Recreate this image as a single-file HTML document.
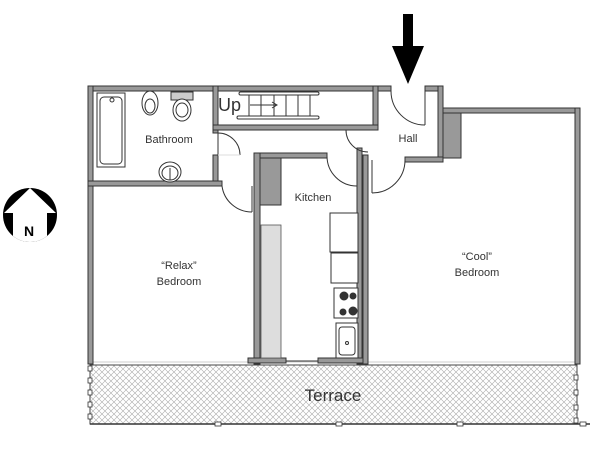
<!DOCTYPE html>
<html><head><meta charset="utf-8"><style>
html,body{margin:0;padding:0;background:#fff;width:600px;height:450px;overflow:hidden}
svg{display:block}
text{font-family:"Liberation Sans",sans-serif;fill:#333}
</style></head><body>
<svg width="600" height="450" viewBox="0 0 600 450" xmlns="http://www.w3.org/2000/svg">
<defs>
<pattern id="hatch" width="6" height="6" patternUnits="userSpaceOnUse">
<path d="M0 0L6 6M6 0L0 6" stroke="#aaa" stroke-width="0.6"/>
</pattern>
<clipPath id="nc"><circle cx="30" cy="215" r="27"/></clipPath>
</defs>
<rect x="90" y="365" width="487" height="59" fill="url(#hatch)" stroke="#444" stroke-width="1"/>
<line x1="90" y1="424" x2="590" y2="424" stroke="#333" stroke-width="1.5"/>
<g fill="#fff" stroke="#333" stroke-width="0.8">
<rect x="88" y="366" width="4" height="5"/><rect x="88" y="378" width="4" height="5"/><rect x="88" y="390" width="4" height="5"/><rect x="88" y="402" width="4" height="5"/><rect x="88" y="414" width="4" height="5"/>
<rect x="574" y="375" width="4" height="5"/><rect x="574" y="390" width="4" height="5"/><rect x="574" y="405" width="4" height="5"/><rect x="574" y="418" width="4" height="5"/>
<rect x="215" y="422" width="6" height="4"/><rect x="336" y="422" width="6" height="4"/><rect x="457" y="422" width="6" height="4"/><rect x="580" y="422" width="6" height="4"/>
</g>
<line x1="93" y1="362" x2="575" y2="362" stroke="#ccc" stroke-width="1"/>
<g fill="#999" stroke="#333" stroke-width="1">
<rect x="88" y="86" width="303" height="5"/>
<rect x="425" y="86" width="18" height="5"/>
<rect x="438" y="86" width="5" height="76"/>
<rect x="405" y="157" width="38" height="5"/>
<rect x="443" y="108" width="137" height="5"/>
<rect x="575" y="108" width="5" height="256"/>
<rect x="88" y="86" width="5" height="278"/>
<rect x="213" y="86" width="5" height="47"/>
<rect x="213" y="155" width="5" height="30"/>
<rect x="373" y="86" width="5" height="44"/>
<rect x="213" y="125" width="165" height="5"/>
<rect x="88" y="181" width="134" height="5"/>
<rect x="254" y="153" width="73" height="5"/>
<rect x="254" y="153" width="6" height="211"/>
<rect x="357" y="148" width="5" height="216"/>
<rect x="363" y="155" width="5" height="209"/>
<rect x="248" y="358" width="38" height="5"/>
<rect x="318" y="358" width="45" height="5"/>
</g>
<rect x="443" y="113" width="18" height="45" fill="#999" stroke="#333"/>
<rect x="260" y="158" width="21" height="47" fill="#999" stroke="#333"/>
<rect x="261" y="225" width="20" height="133" fill="#ddd" stroke="#555" stroke-width="0.8"/>
<line x1="286" y1="361" x2="318" y2="361" stroke="#333"/>
<g stroke="#333" fill="none" stroke-width="1">
<rect x="239" y="92" width="80" height="3" rx="1.5"/>
<rect x="237" y="116" width="82" height="3" rx="1.5"/>
<line x1="249" y1="95" x2="249" y2="116"/><line x1="261" y1="95" x2="261" y2="116"/><line x1="274" y1="95" x2="274" y2="116"/><line x1="286" y1="95" x2="286" y2="116"/><line x1="298" y1="95" x2="298" y2="116"/><line x1="310" y1="95" x2="310" y2="116"/>
<line x1="250" y1="105" x2="276" y2="105"/>
<path d="M272 102L277 105L272 108"/>
</g>
<text x="218" y="111" font-size="18">Up</text>
<g stroke="#333" fill="#fff" stroke-width="1">
<rect x="97" y="93" width="28" height="74"/>
<rect x="100" y="97" width="22" height="67" rx="4"/>
<circle cx="112" cy="100" r="2"/>
<ellipse cx="150" cy="103" rx="8" ry="12"/><ellipse cx="150" cy="106" rx="5" ry="7"/>
<rect x="171" y="92" width="22" height="8" fill="#ccc"/>
<ellipse cx="182" cy="110" rx="9" ry="11"/><ellipse cx="182" cy="110" rx="6" ry="7"/>
<ellipse cx="170" cy="172" rx="11" ry="10"/><ellipse cx="170" cy="173" rx="8" ry="7"/>
<line x1="170" y1="168" x2="170" y2="180"/>
</g>
<g stroke="#333" fill="none" stroke-width="1">
<path d="M218 133L218 155"/><path d="M218 133A22 22 0 0 1 240 155"/><line x1="218" y1="155" x2="240" y2="155" stroke="#ddd"/>
<path d="M222 186A30 30 0 0 0 252 212"/><line x1="252" y1="186" x2="252" y2="212"/>
<path d="M391 91A34 34 0 0 0 425 125"/><line x1="425" y1="91" x2="425" y2="125"/>
<path d="M327 156A30 30 0 0 0 357 186"/>
<path d="M405 160A33 33 0 0 1 372 193"/><line x1="372" y1="160" x2="372" y2="193"/>
<path d="M346 130A22 22 0 0 0 368 152"/>
</g>
<g stroke="#333" fill="#fff" stroke-width="1">
<rect x="330" y="213" width="28" height="39"/>
<rect x="331" y="253" width="27" height="30"/>
<rect x="334" y="288" width="24" height="30"/>
<circle cx="344" cy="296" r="4" fill="#333"/><circle cx="353" cy="296" r="3" fill="#333"/>
<circle cx="343" cy="312" r="3" fill="#333"/><circle cx="353" cy="311" r="4" fill="#333"/>
<rect x="336" y="323" width="22" height="35"/>
<rect x="339" y="327" width="16" height="28" rx="3"/>
<circle cx="347" cy="343" r="1.5"/>
</g>
<g font-size="11" text-anchor="middle">
<text x="169" y="143">Bathroom</text>
<text x="408" y="142">Hall</text>
<text x="313" y="201">Kitchen</text>
<text x="179" y="269">“Relax”</text>
<text x="179" y="285">Bedroom</text>
<text x="477" y="260">“Cool”</text>
<text x="477" y="276">Bedroom</text>
</g>
<text x="333" y="401" font-size="17" text-anchor="middle">Terrace</text>
<path d="M403 14H413V46H424L408 84L392 46H403Z" fill="#000"/>
<circle cx="30" cy="215" r="27" fill="#000"/>
<g clip-path="url(#nc)">
<path d="M30 188L56 213H47V245H13V213H4Z" fill="#fff"/>
</g>
<text x="29" y="236" font-size="14" font-weight="bold" text-anchor="middle" style="fill:#000">N</text>
</svg>
</body></html>
